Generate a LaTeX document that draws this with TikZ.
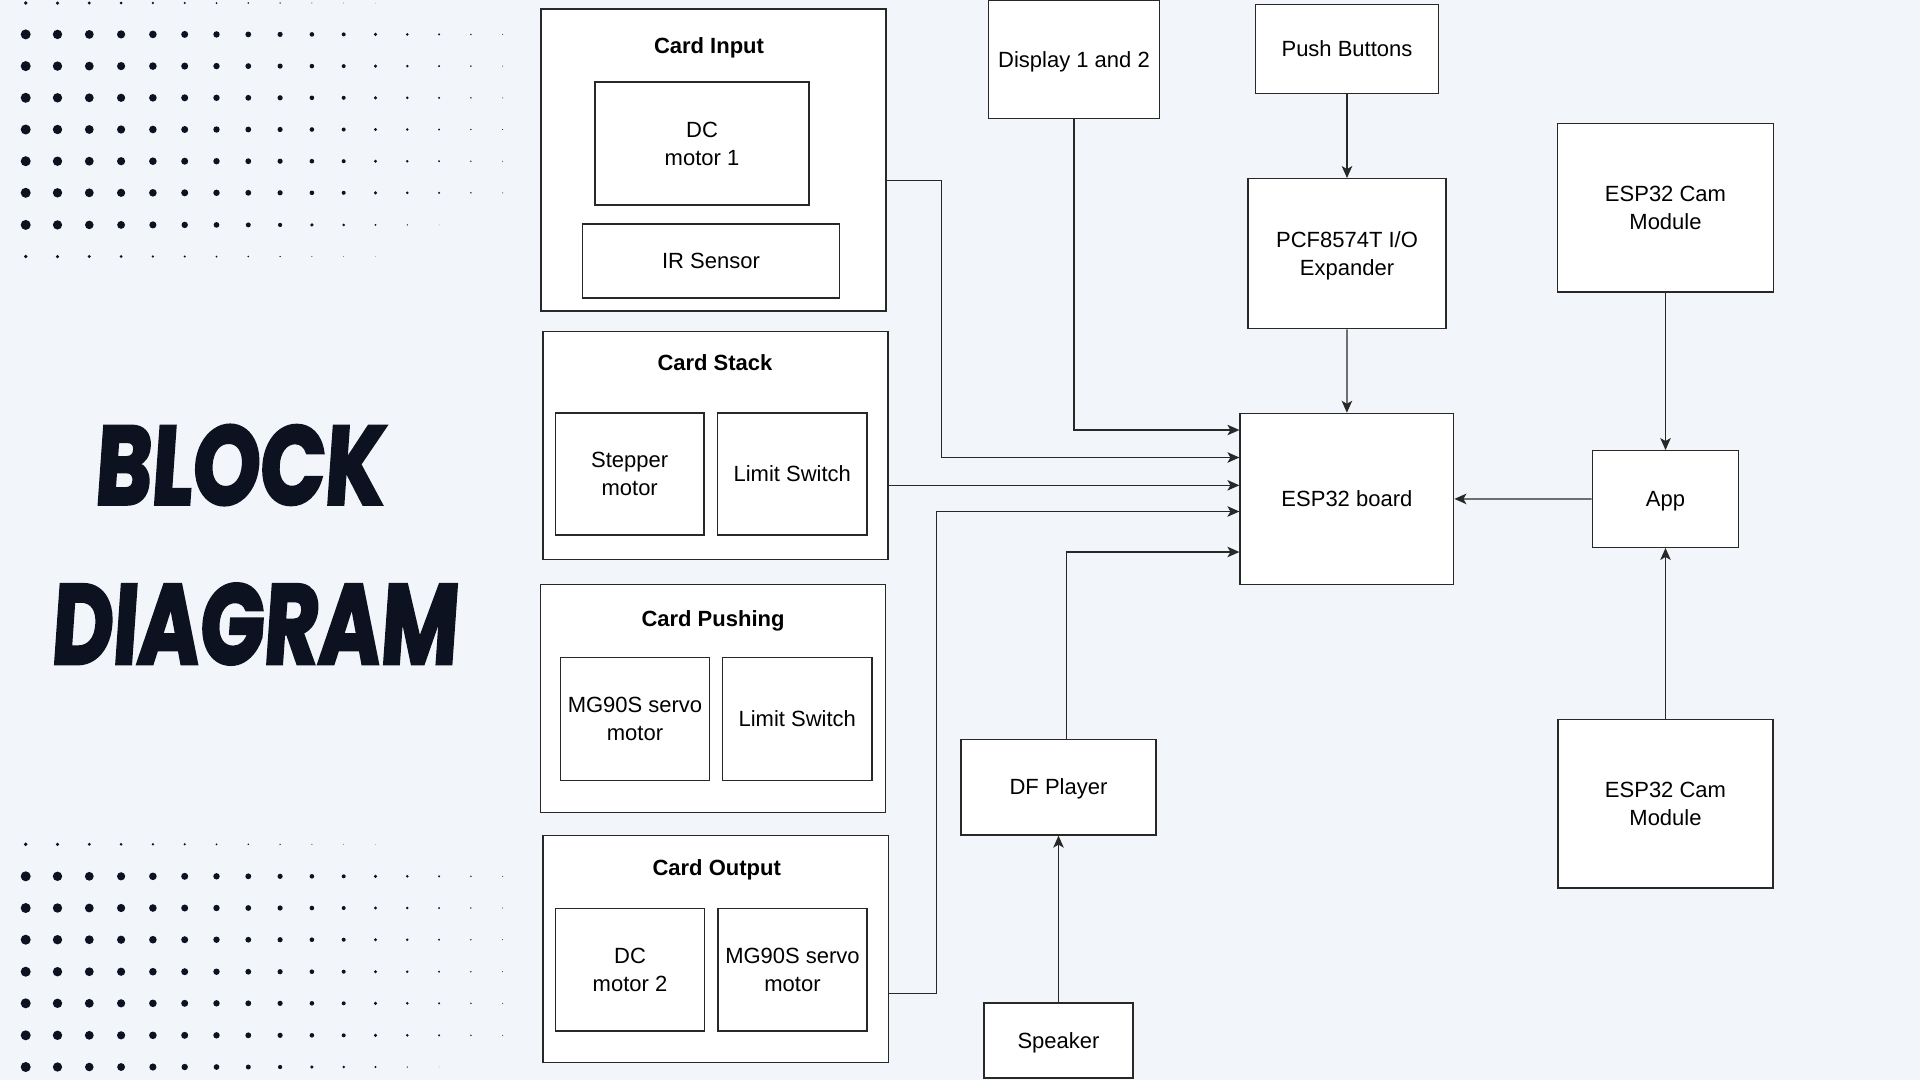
\documentclass[tikz,border=0pt]{standalone}
\usepackage{fontspec}
\usepackage{graphicx}
\setmainfont{Liberation Sans}
\newfontfamily\titlefont{Poppins}[BoldFeatures={FakeBold=3}]
\usetikzlibrary{arrows.meta}
\definecolor{bgc}{RGB}{242,245,250}
\definecolor{dotc}{RGB}{12,18,32}
\definecolor{linec}{RGB}{40,40,40}
\newcommand{\boxstrut}{\rule[-0.21em]{0pt}{1.11em}}
\begin{document}
\begin{tikzpicture}[x=1pt,y=-1pt,
  box/.style={draw=linec, fill=white, line width=1.3pt, inner sep=0pt, align=center,
    font=\fontsize{22}{28}\selectfont,
    execute at begin node=\boxstrut, execute at end node=\boxstrut},
  txt/.style={inner sep=0pt, align=center, font=\fontsize{22}{28}\selectfont,
    execute at begin node=\boxstrut, execute at end node=\boxstrut},
  ttl/.style={inner sep=0pt, anchor=base, font=\fontsize{22}{27}\selectfont\bfseries},
  arr/.style={draw=linec, line width=1.3pt, -{Stealth[length=12pt,width=10.5pt,inset=3pt]}},
  dotfill/.style={fill=dotc},
  bigword/.style={inner sep=0pt, text=dotc, font=\titlefont\bfseries, xslant=0.07, transform shape}]
\fill[bgc] (0,0) rectangle (1920,1080);
\useasboundingbox (0,0) rectangle (1920,1080);

% ---------- dot patterns ----------
\foreach \y in {34.4,66.1,97.8,129.5,161.2,192.8,876.3,908,939.7,971.7,1003.3,1035.3}{
  \foreach \c in {0,...,15}{
    \pgfmathsetmacro\rr{5-0.3*\c}
    \fill[dotfill] ({25.7+31.8*\c},\y) circle[radius=\rr pt];
  }
}
\foreach \y in {224.9,1067}{
  \foreach \c in {0,...,13}{
    \pgfmathsetmacro\rr{5-0.36*\c}
    \fill[dotfill] ({25.7+31.8*\c},\y) circle[radius=\rr pt];
  }
}
\foreach \y in {3,256.5,844.3}{
  \foreach \c in {0,...,11}{
    \pgfmathsetmacro\rr{1.9-0.15*\c}
    \fill[dotfill] ({25.7+31.8*\c},\y) circle[radius=\rr pt];
  }
}

% ---------- title ----------
\node[bigword] (wblock) at (241,465) {\resizebox{289pt}{79pt}{BLOCK}};
\node[bigword] (wdiag) at (256,624) {\resizebox{406pt}{80pt}{DIAGRAM}};

% ---------- group boxes ----------
\node[box, minimum width=345pt, minimum height=302pt] (ci) at (713.5,160) {};
\node[ttl] (ciT) at (709,53) {Card Input};
\node[box, minimum width=214pt, minimum height=123pt] (dc1) at (702,143.5) {};
\node[txt] (dc1t) at ([yshift=-2.8pt]dc1.center) {DC\\motor 1};
\node[box, minimum width=256.5pt, minimum height=74pt] (ir) at (711,261) {IR Sensor};

\node[box, minimum width=345pt, minimum height=228pt] (cs) at (715.5,445.6) {};
\node[ttl] (csT) at (715,370) {Card Stack};
\node[box, minimum width=148.6pt, minimum height=122pt] (step1) at (629.7,474) {};
\node[txt] (step1t) at ([yshift=-2.5pt]step1.center) {Stepper\\motor};
\node[box, minimum width=149.3pt, minimum height=122pt] (ls1) at (792.3,474) {Limit Switch};

\node[box, minimum width=345pt, minimum height=228.4pt] (cp) at (713.2,698.5) {};
\node[ttl] (cpT) at (713,626) {Card Pushing};
\node[box, minimum width=149.4pt, minimum height=122.6pt] (sv1) at (635,719) {};
\node[txt] (sv1t) at ([yshift=-2pt]sv1.center) {MG90S servo\\motor};
\node[box, minimum width=149.3pt, minimum height=122.6pt] (ls2) at (797.3,719) {Limit Switch};

\node[box, minimum width=345.3pt, minimum height=227.4pt] (co) at (715.7,949) {};
\node[ttl] (coT) at (716.7,875) {Card Output};
\node[box, minimum width=149.4pt, minimum height=122.7pt] (dc2) at (630,969.7) {};
\node[txt] (dc2t) at ([yshift=-2.8pt]dc2.center) {DC\\motor 2};
\node[box, minimum width=149pt, minimum height=122.7pt] (sv2) at (792.5,969.7) {};
\node[txt] (sv2t) at ([yshift=-2.5pt]sv2.center) {MG90S servo\\motor};

% ---------- other blocks ----------
\node[box, minimum width=171.5pt, minimum height=117.5pt] (disp) at (1074,59.5) {Display 1 and 2};
\node[box, minimum width=183pt, minimum height=89pt] (pb) at (1347,48.8) {Push Buttons};
\node[box, minimum width=198pt, minimum height=150pt] (pcf) at (1347,253.7) {};
\node[txt] (pcft) at ([yshift=-2.5pt]pcf.center) {PCF8574T I/O\\Expander};
\node[box, minimum width=213.7pt, minimum height=171pt] (esp) at (1346.9,498.9) {ESP32 board};
\node[box, minimum width=215.5pt, minimum height=168.7pt] (cam1) at (1665.5,207.7) {};
\node[txt] (cam1t) at ([yshift=-2.3pt]cam1.center) {ESP32 Cam\\Module};
\node[box, minimum width=146.5pt, minimum height=96.6pt] (app) at (1665.5,499) {App};
\node[box, minimum width=215pt, minimum height=168.6pt] (cam2) at (1665.5,803.7) {};
\node[txt] (cam2t) at ([yshift=-2.3pt]cam2.center) {ESP32 Cam\\Module};
\node[box, minimum width=195pt, minimum height=95.6pt] (df) at (1058.5,787.2) {DF Player};
\node[box, minimum width=149pt, minimum height=75pt] (spk) at (1058.5,1040.5) {Speaker};

% ---------- connectors ----------
\draw[arr] (disp.south) |- (esp.west |- 0,430);
\draw[arr] (ci.east |- 0,180.3) -| (941.2,457.5) -- (esp.west |- 0,457.5);
\draw[arr] (cs.east |- 0,485.3) -- (esp.west |- 0,485.3);
\draw[arr] (co.east |- 0,993.3) -| (936.3,511.5) -- (esp.west |- 0,511.5);
\draw[arr] (1066.5,0 |- df.north) |- (esp.west |- 0,552);
\draw[arr] (pb.south) -- (pcf.north);
\draw[arr] (pcf.south) -- (esp.north);
\draw[arr] (cam1.south) -- (app.north);
\draw[arr] (cam2.north) -- (app.south);
\draw[arr] (app.west) -- (esp.east);
\draw[arr] (spk.north) -- (df.south);
\end{tikzpicture}
\end{document}
